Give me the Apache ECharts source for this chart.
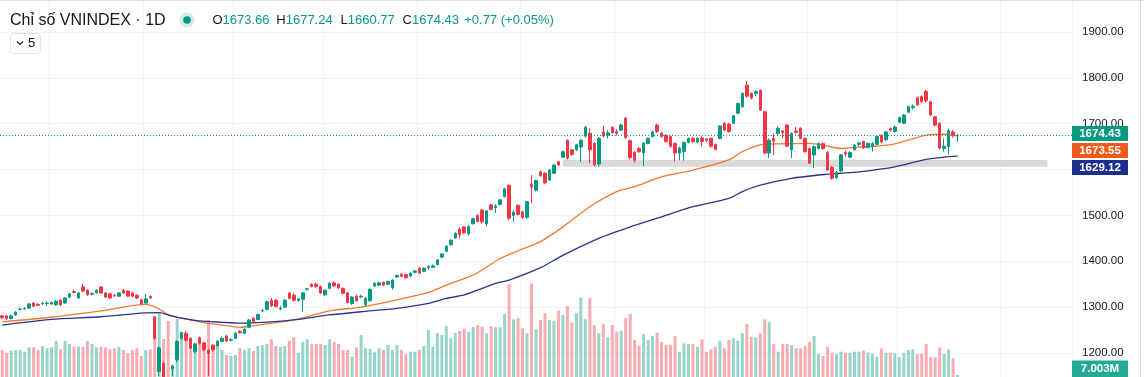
<!DOCTYPE html>
<html><head><meta charset="utf-8">
<script src="https://cdn.jsdelivr.net/npm/echarts@6/dist/echarts.min.js"></script>
<style>html,body{margin:0;padding:0;background:#fff;}#c{width:1144px;height:377px;}</style>
</head><body><div id="c"></div>
<script>
// ---- trading days (categories) ----
const tradingDays = {
  '2025-02': [14,17,18,19,20,21,24,25,26,27,28],
  '2025-03': [3,4,5,6,7,10,11,12,13,14,17,18,19,20,21,24,25,26,27,28,31],
  '2025-04': [1,2,3,4,8,9,10,11,14,15,16,17,18,21,22,23,24,25,28,29],
  '2025-05': [5,6,7,8,9,12,13,14,15,16,19,20,21,22,23,26,27,28,29,30],
  '2025-06': [2,3,4,5,6,9,10,11,12,13,16,17,18,19,20,23,24,25,26,27,30],
  '2025-07': [1,2,3,4,7,8,9,10,11,14,15,16,17,18,21,22,23,24,25,28,29,30,31],
  '2025-08': [1,4,5,6,7,8,11,12,13,14,15,18,19,20,21,22,25,26,27,28,29],
  '2025-09': [3,4,5,8,9,10,11,12,15,16,17,18,19,22,23,24,25,26,29,30],
  '2025-10': [1,2,3,6,7,8,9,10,13,14,15,16,17,20,21,22,23,24,27,28,29,30,31],
  '2025-11': [3,4,5,6,7,10,11,12,13,14,17,18,19,20,21,24,25,26,27,28],
  '2025-12': [1,2,3,4,5,8,9,10,11,12,15,16,17,18]
};
const futureDays = ['2025-12-19','2025-12-22','2025-12-23','2025-12-24','2025-12-25','2025-12-26','2025-12-29','2025-12-30','2025-12-31',
  '2026-01-02','2026-01-05','2026-01-06','2026-01-07','2026-01-08','2026-01-09','2026-01-12','2026-01-13','2026-01-14','2026-01-15',
  '2026-01-16','2026-01-19','2026-01-20','2026-01-21','2026-01-22','2026-01-23'];

// ---- OHLC per month: [open, high, low, close] ----
const febOHLC = [[1281,1283,1274,1277],[1281,1283,1272,1275],[1275,1283,1273,1281],[1283,1291,1281,1289],[1295,1299,1294,1296],[1296,1300,1295,1297],[1298,1309,1296,1307],[1309,1311,1300,1302],[1306,1309,1302,1304],[1307,1312,1305,1308],[1308,1313,1303,1309]];
const marOHLC = [[1307,1312,1305,1310],[1305,1315,1303,1313],[1315,1317,1303,1305],[1309,1322,1307,1320],[1322,1331,1320,1329],[1334,1338,1330,1332],[1320,1333,1318,1331],[1344,1350,1333,1335],[1337,1339,1325,1327],[1328,1332,1326,1330],[1331,1339,1329,1337],[1344,1346,1329,1331],[1331,1333,1320,1322],[1329,1331,1318,1320],[1326,1328,1322,1325],[1324,1333,1322,1331],[1337,1339,1329,1331],[1335,1337,1322,1324],[1331,1333,1322,1324],[1326,1328,1318,1320],[1316,1318,1305,1307]];
const aprOHLC = [[1309,1329,1307,1318],[1323,1326,1318,1320],[1279,1281,1228,1232],[1160,1215,1150,1211],[1177,1182,1120,1132],[1125,1135,1073,1094],[1166,1175,1150,1171],[1185,1228,1180,1225],[1232,1246,1228,1244],[1243,1248,1225,1228],[1232,1234,1207,1210],[1203,1222,1200,1220],[1233,1236,1218,1221],[1222,1224,1204,1207],[1206,1209,1150,1199],[1217,1219,1203,1207],[1215,1228,1213,1226],[1225,1236,1223,1232],[1237,1240,1224,1226],[1228,1232,1225,1229]];
const mayOHLC = [[1232,1246,1230,1243],[1247,1250,1242,1244],[1243,1254,1241,1252],[1256,1274,1254,1272],[1276,1278,1266,1268],[1273,1286,1271,1284],[1292,1296,1289,1293],[1295,1314,1293,1312],[1315,1320,1300,1303],[1315,1318,1299,1301],[1296,1303,1293,1298],[1300,1318,1298,1315],[1331,1333,1317,1319],[1326,1330,1312,1315],[1314,1320,1312,1318],[1317,1333,1290,1331],[1339,1342,1336,1340],[1350,1352,1343,1345],[1350,1353,1342,1345],[1345,1347,1329,1331]];
const junOHLC = [[1327,1339,1324,1337],[1341,1354,1339,1352],[1353,1356,1344,1346],[1350,1352,1340,1342],[1341,1343,1328,1330],[1331,1333,1308,1310],[1308,1324,1305,1322],[1324,1327,1312,1314],[1322,1327,1320,1324],[1306,1322,1300,1319],[1314,1341,1312,1339],[1346,1355,1344,1352],[1348,1356,1346,1353],[1354,1356,1346,1348],[1350,1358,1348,1356],[1343,1361,1338,1359],[1366,1371,1364,1369],[1372,1374,1365,1367],[1371,1373,1362,1364],[1368,1376,1366,1374],[1376,1381,1374,1379]];
const julOHLC = [[1385,1387,1372,1374],[1378,1387,1376,1385],[1386,1392,1381,1388],[1387,1393,1385,1390],[1393,1405,1391,1403],[1409,1418,1407,1416],[1422,1435,1420,1433],[1436,1448,1434,1446],[1451,1463,1449,1461],[1470,1474,1450,1458],[1475,1477,1460,1462],[1460,1478,1456,1476],[1482,1495,1480,1493],[1500,1502,1485,1487],[1512,1514,1482,1486],[1482,1512,1476,1510],[1523,1525,1511,1513],[1517,1525,1505,1520],[1524,1536,1522,1534],[1541,1560,1539,1558],[1566,1567,1490,1494],[1500,1511,1486,1507],[1522,1524,1500,1502]];
const augOHLC = [[1508,1510,1492,1496],[1496,1532,1492,1530],[1568,1588,1527,1562],[1555,1578,1552,1576],[1595,1598,1584,1587],[1592,1594,1568,1571],[1577,1601,1575,1599],[1592,1612,1590,1610],[1617,1619,1608,1610],[1627,1641,1625,1639],[1664,1666,1622,1625],[1643,1645,1630,1633],[1643,1656,1640,1654],[1649,1667,1617,1664],[1673,1695,1670,1692],[1679,1690,1614,1643],[1657,1660,1607,1610],[1612,1671,1606,1668],[1682,1696,1670,1673],[1675,1686,1668,1680],[1692,1695,1678,1681]];
const sepOHLC = [[1683,1688,1674,1679],[1686,1700,1684,1697],[1712,1715,1667,1670],[1663,1665,1622,1626],[1638,1640,1615,1620],[1646,1649,1636,1639],[1636,1660,1608,1658],[1657,1670,1655,1668],[1672,1685,1670,1682],[1697,1700,1680,1683],[1679,1682,1670,1672],[1675,1677,1659,1661],[1672,1674,1648,1651],[1657,1659,1617,1636],[1636,1650,1620,1647],[1639,1661,1619,1659],[1659,1670,1657,1668],[1668,1671,1659,1661],[1660,1671,1657,1668],[1669,1673,1650,1661]];
const octOHLC = [[1667,1669,1660,1664],[1668,1670,1648,1651],[1655,1657,1642,1644],[1668,1697,1666,1695],[1701,1704,1684,1686],[1699,1702,1680,1683],[1701,1719,1699,1717],[1723,1746,1721,1744],[1737,1768,1735,1766],[1784,1793,1757,1760],[1766,1768,1753,1756],[1766,1773,1760,1770],[1773,1775,1728,1730],[1726,1728,1633,1636],[1636,1668,1625,1664],[1668,1679,1632,1662],[1679,1694,1675,1690],[1684,1686,1668,1681],[1697,1699,1649,1651],[1643,1681,1625,1679],[1684,1693,1678,1681],[1690,1692,1666,1668],[1668,1670,1637,1639]];
const novOHLC = [[1646,1648,1612,1614],[1632,1653,1603,1650],[1646,1659,1644,1657],[1657,1659,1643,1646],[1637,1640,1597,1599],[1605,1608,1578,1581],[1582,1597,1579,1594],[1597,1634,1595,1632],[1637,1641,1628,1634],[1627,1640,1625,1637],[1643,1656,1641,1653],[1655,1661,1650,1658],[1661,1663,1645,1647],[1648,1659,1646,1657],[1650,1660,1639,1657],[1655,1674,1653,1672],[1675,1677,1657,1660],[1665,1684,1662,1682],[1689,1692,1683,1686],[1683,1696,1681,1693]];
const decOHLC = [[1703,1716,1701,1713],[1701,1721,1699,1719],[1725,1740,1723,1737],[1735,1742,1731,1738],[1757,1759,1739,1741],[1759,1762,1746,1748],[1771,1774,1746,1750],[1748,1750,1716,1719],[1715,1717,1694,1697],[1701,1703,1644,1647],[1646,1668,1639,1651],[1650,1689,1632,1685],[1682,1686,1670,1673.66],[1673.66,1677.24,1660.77,1674.43]];

// ---- volume per month (millions) ----
const febVol = [756,680,736,756,756,708,832,832,756,868,804];
const marVol = [832,1008,776,1008,924,848,848,848,1008,924,832,848,832,776,804,848,756,664,756,804,588];
const aprVol = [756,776,1680,1820,1064,1568,336,1624,1260,1092,756,700,1092,980,1596,812,840,756,616,588];
const mayVol = [616,804,756,804,728,868,896,924,1056,868,848,868,1016,1112,680,980,1056,924,924,924];
const junVol = [896,1056,988,924,756,756,568,832,1176,804,784,692,804,756,896,756,896,756,636,708,708];
const julVol = [756,868,1316,848,1232,1176,1428,1084,1232,1288,1358,1268,1400,1456,1408,1224,1428,1392,1392,1764,2604,1616,1644];
const augVol = [1364,1224,2624,1336,1596,1784,1596,1576,1856,1736,1988,1520,1784,2232,1616,2204,1456,1224,1484,1112,1456];
const sepVol = [1268,1296,1644,1764,1036,868,1204,1036,1148,1240,980,896,896,1148,708,944,924,924,848,1056];
const octVol = [708,776,848,1016,804,1036,1084,1016,1224,1484,1128,1112,1224,1616,1540,924,708,924,924,888,804,804,868];
const novVol = [988,1148,644,588,848,680,644,708,680,680,708,708,736,680,644,568,804,680,680,664];
const decVol = [552,680,756,776,644,644,924,552,552,832,644,776,524,7.003];

// ---- moving averages: [bar index, value] ----
const maFast = [[0,1268],[11,1278],[22,1292],[32,1306],[35,1296],[37,1283],[40,1276],[44,1268],[49,1261],[53,1256],[55,1258],[60,1265],[66,1274],[73,1292],[80,1300],[88,1316],[95,1332],[99,1348],[104,1366],[106,1375],[111,1406],[115,1423],[120,1443],[125,1475],[131,1519],[137,1552],[141,1563],[147,1584],[154,1599],[162,1621],[165,1639],[169,1654],[173,1656],[180,1657],[184,1651],[187,1646],[191,1649],[195,1651],[199,1656],[202,1664],[206,1675],[210,1677],[213,1673.55]];
const maSlow = [[0,1261],[11,1273.5],[22,1279],[31,1287],[35,1288],[37,1283],[40,1276],[44,1270],[49,1267],[53,1265],[60,1268],[66,1273.5],[73,1283],[80,1290],[88,1297.5],[95,1308],[99,1319],[103,1326.5],[107,1341],[110,1352],[113,1359],[120,1386],[125,1413],[133,1450],[140,1475],[147,1497],[154,1519],[162,1537],[165,1552],[169,1566],[176,1581],[184,1590],[187,1592],[191,1595],[199,1606],[206,1622],[210,1627],[213,1629.12]];

// support zone (price range) and its start bar
const zoneLow = 1606, zoneHigh = 1621, zoneStartBar = 125, zoneEndBar = 233;
const yTicks = {min:1200, max:1900, step:100};

// ---- build ----
const monthsOHLC = [febOHLC,marOHLC,aprOHLC,mayOHLC,junOHLC,julOHLC,augOHLC,sepOHLC,octOHLC,novOHLC,decOHLC];
const monthsVol = [febVol,marVol,aprVol,mayVol,junVol,julVol,augVol,sepVol,octVol,novVol,decVol];
const dates = [];
Object.keys(tradingDays).forEach(k => tradingDays[k].forEach(d => dates.push(k + '-' + String(d).padStart(2,'0'))));
const categories = dates.concat(futureDays);
const ohlc = [].concat(...monthsOHLC);
const vols = [].concat(...monthsVol);
const UP = '#089981', DOWN = '#f23645';
const candleData = ohlc.map(r => [r[0], r[3], r[2], r[1]]);
const volData = vols.map((v,i) => ({value:v, itemStyle:{color: ohlc[i][3] >= ohlc[i][0] ? 'rgba(8,153,129,0.42)' : 'rgba(242,54,69,0.42)'}}));
const last = ohlc[ohlc.length-1];
const prevClose = ohlc[ohlc.length-2][3];
const FONT = '"Liberation Sans", Arial, sans-serif';

const chart = echarts.init(document.getElementById('c'), null, {renderer:'canvas'});
const monthStart = (i) => i > 0 && categories[i].slice(0,7) !== categories[i-1].slice(0,7);

chart.setOption({
  animation:false,
  backgroundColor:'#ffffff',
  grid:[{left:0,right:72,top:32,bottom:24},{left:0,right:72,top:0,bottom:0}],
  xAxis:[
    {type:'category',data:categories,gridIndex:0,boundaryGap:true,axisLine:{show:false},axisTick:{show:false},axisLabel:{show:false},splitLine:{show:false}},
    {type:'category',data:categories,gridIndex:1,boundaryGap:true,axisLine:{show:false},axisTick:{show:false},axisLabel:{show:false},
     splitLine:{show:true,interval:(i)=>monthStart(i),lineStyle:{color:'#f0f3fa',width:1}}}
  ],
  yAxis:[
    {type:'value',gridIndex:0,position:'right',min:yTicks.min,max:yTicks.max,interval:yTicks.step,
     axisLine:{show:false},axisTick:{show:false},
     axisLabel:{color:'#131722',fontSize:11.5,fontFamily:FONT,margin:10,formatter:v=>v.toFixed(2)},
     splitLine:{lineStyle:{color:'#f0f3fa',width:1}}},
    {type:'value',gridIndex:1,min:0,max:10556,show:false,splitLine:{show:false}}
  ],
  series:[
    {type:'bar',name:'Volume',xAxisIndex:1,yAxisIndex:1,data:volData,barWidth:3,barMinHeight:2,z:1,silent:true},
    {type:'line',name:'zone',xAxisIndex:0,yAxisIndex:0,data:[],z:2,silent:true,
     markArea:{silent:true,itemStyle:{color:'#d9d9d9'},data:[[{xAxis:zoneStartBar,yAxis:zoneLow},{xAxis:zoneEndBar,yAxis:zoneHigh}]]}},
    {type:'line',name:'MA fast',data:maFast,showSymbol:false,symbol:'none',smooth:0.25,z:3,clip:false,
     lineStyle:{color:'#f07a2e',width:1.3}},
    {type:'line',name:'MA slow',data:maSlow,showSymbol:false,symbol:'none',smooth:0.25,z:3,clip:false,
     lineStyle:{color:'#24368f',width:1.3}},
    {type:'candlestick',name:'VNINDEX',data:candleData,barWidth:3,clip:false,z:5,
     itemStyle:{color:UP,color0:DOWN,borderColor:UP,borderColor0:DOWN,borderWidth:1}}
  ]
});

// ---- header + price tags ----
const chg = last[3]-prevClose;
const hdrY = 20.5;
const header = [
  {type:'text',x:10,y:21,style:{text:'Chỉ số VNINDEX · 1D',font:'16px '+FONT,fill:'#131722',verticalAlign:'middle'}},
  {type:'circle',shape:{cx:187,cy:20,r:7.5},style:{fill:'rgba(8,153,129,0.18)'}},
  {type:'circle',shape:{cx:187,cy:20,r:3.8},style:{fill:UP}}
];
const groups = [['O',last[0].toFixed(2),212.4],['H',last[1].toFixed(2),276.3],['L',last[2].toFixed(2),340.6],['C',last[3].toFixed(2),402.6]];
groups.forEach(g=>{
  header.push({type:'text',x:g[2],y:hdrY,style:{text:'{l|'+g[0]+'}{v|'+g[1]+'}',font:'13px '+FONT,verticalAlign:'middle',
    rich:{l:{fill:'#131722',font:'13px '+FONT},v:{fill:UP,font:'13px '+FONT}}}});
});
header.push({type:'text',x:464.2,y:hdrY,style:{text:(chg>=0?'+':'')+chg.toFixed(2)+' (' + (chg>=0?'+':'') + (chg/prevClose*100).toFixed(2)+'%)',font:'13px '+FONT,fill:UP,verticalAlign:'middle'}});
// legend collapse box
header.push({type:'rect',shape:{x:10.5,y:33.5,width:30,height:20,r:3},style:{fill:'#fff',stroke:'#e0e3eb',lineWidth:1}});
header.push({type:'polyline',shape:{points:[[17,41.5],[20,44.5],[23,41.5]]},style:{stroke:'#131722',lineWidth:1.1,fill:null}});
header.push({type:'text',x:28,y:43.5,style:{text:'5',font:'13px '+FONT,fill:'#131722',verticalAlign:'middle'}});
// borders
header.push({type:'rect',shape:{x:0,y:0,width:1144,height:1},style:{fill:'#e0e3eb'}});
header.push({type:'rect',shape:{x:1140,y:0,width:1,height:377},style:{fill:'#d6d9e0'}});

const px = v => chart.convertToPixel({yAxisIndex:0}, v);
// dotted last-price line across the plot
const yLast = Math.round(px(last[3])) + 0.5;
header.push({type:'line',shape:{x1:0,y1:yLast,x2:1072,y2:yLast},style:{stroke:'#089981',lineWidth:1,lineDash:[1,2]},z:50});

const tags = [
  {v:last[3], c:'#089981'},
  {v:maFast[maFast.length-1][1], c:'#ef5b1c'},
  {v:maSlow[maSlow.length-1][1], c:'#1c2f8e'}
].map(t=>({...t, y:px(t.v)})).sort((a,b)=>a.y-b.y);
let prev = -Infinity;
tags.forEach((t,i)=>{ let yc = i===0 ? t.y-2 : Math.max(t.y, prev+17); prev = yc; t.yc = yc; });
const tagEls = [];
tags.forEach(t=>{
  tagEls.push({type:'rect',shape:{x:1072,y:t.yc-7.5,width:56,height:15},style:{fill:t.c},z:100});
  tagEls.push({type:'text',x:1100,y:t.yc+0.5,style:{text:t.v.toFixed(2),font:'bold 11.5px '+FONT,fill:'#fff',align:'center',verticalAlign:'middle'},z:101});
});
const vLast = vols[vols.length-1];
const vy = Math.min(chart.convertToPixel({yAxisIndex:1}, vLast), 377-8.5);
tagEls.push({type:'rect',shape:{x:1072,y:vy-8,width:56,height:17},style:{fill:'#22ab94'},z:100});
tagEls.push({type:'text',x:1100,y:vy+0.5,style:{text:vLast.toFixed(3)+'M',font:'bold 11.5px '+FONT,fill:'#fff',align:'center',verticalAlign:'middle'},z:101});

chart.setOption({graphic:{elements:header.concat(tagEls)}});
</script>
</body></html>
